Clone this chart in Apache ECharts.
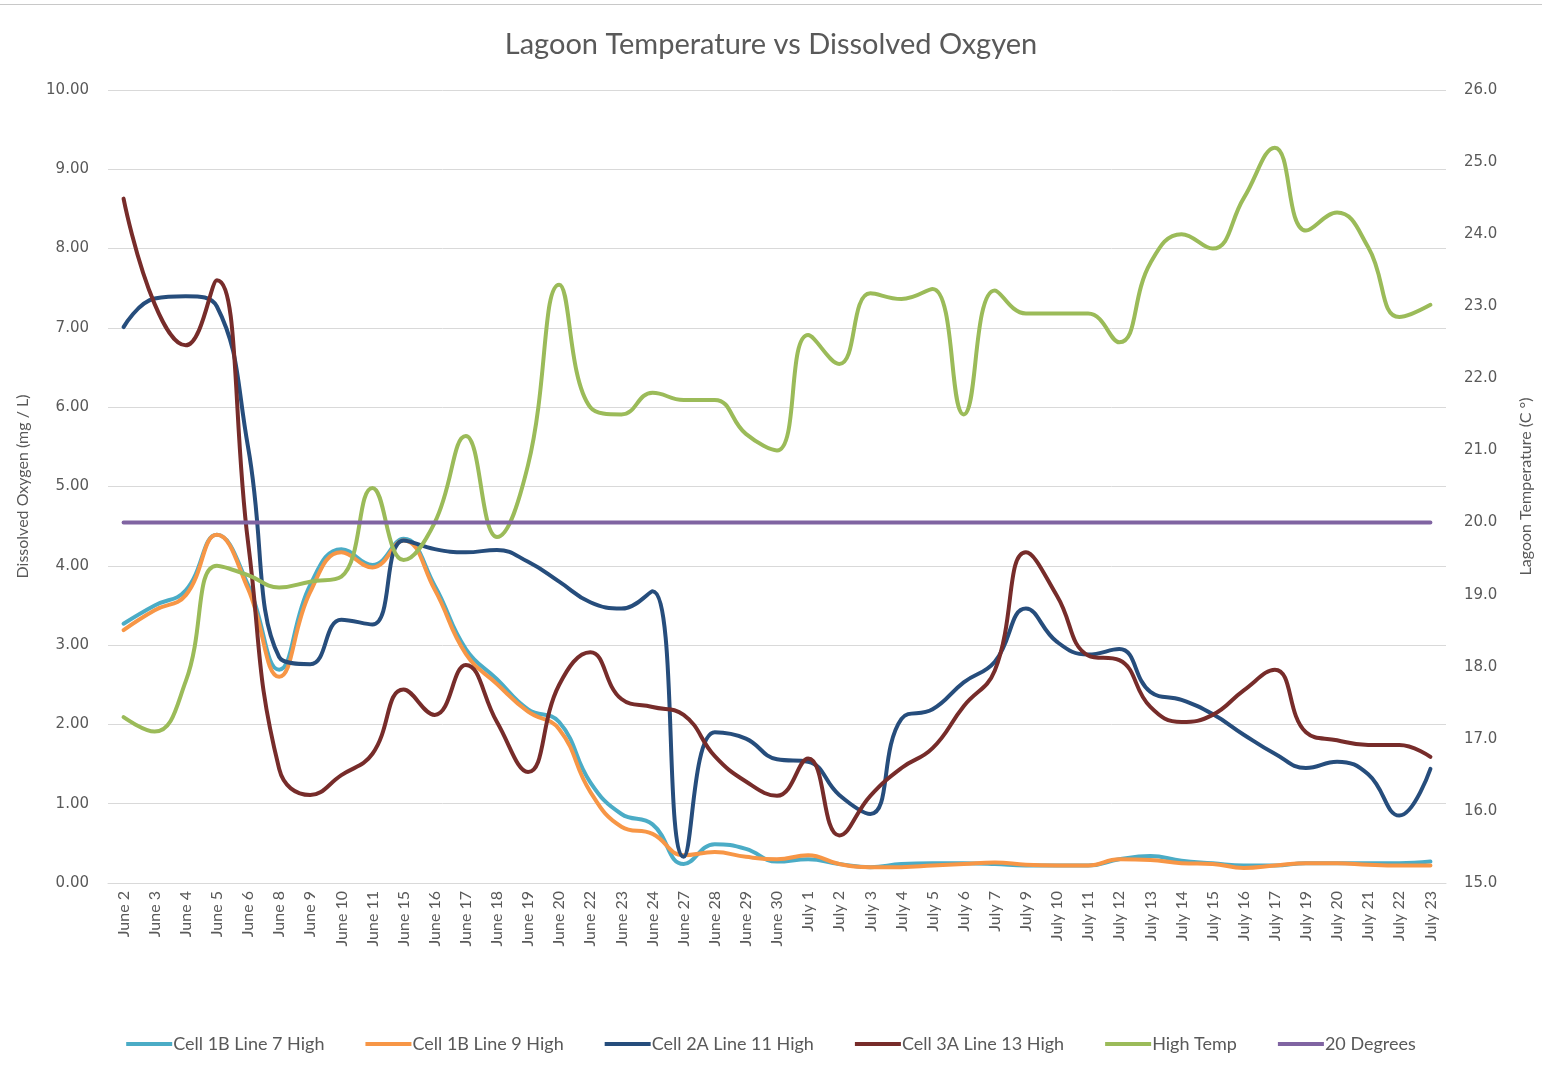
<!DOCTYPE html>
<html>
<head>
<meta charset="utf-8">
<script src="https://cdn.jsdelivr.net/npm/echarts@6/dist/echarts.min.js"></script>
<style>
  html, body { margin: 0; padding: 0; background: #fff; overflow: hidden; }
  #main { width: 1542px; height: 1067px; box-sizing: border-box; border-top: 1px solid #c8c8c8; margin-top: 4px; }
</style>
</head>
<body>
<div id="main"></div>
<script>
const dates = ['June 2', 'June 3', 'June 4', 'June 5', 'June 6', 'June 8', 'June 9', 'June 10', 'June 11',
  'June 15', 'June 16', 'June 17', 'June 18', 'June 19', 'June 20', 'June 22', 'June 23', 'June 24',
  'June 27', 'June 28', 'June 29', 'June 30', 'July 1', 'July 2', 'July 3', 'July 4', 'July 5', 'July 6',
  'July 7', 'July 9', 'July 10', 'July 11', 'July 12', 'July 13', 'July 14', 'July 15', 'July 16',
  'July 17', 'July 19', 'July 20', 'July 21', 'July 22', 'July 23']

const cell1bLine7 = [3.27, 3.5, 3.69, 4.39, 3.76, 2.69, 3.76, 4.21, 4.01, 4.34, 3.75, 2.95, 2.57, 2.19, 2.03,
  1.27, 0.87, 0.74, 0.24, 0.49, 0.43, 0.27, 0.3, 0.24, 0.2, 0.24, 0.25, 0.25, 0.24, 0.22, 0.22, 0.22,
  0.3, 0.34, 0.28, 0.25, 0.22, 0.22, 0.25, 0.25, 0.25, 0.25, 0.27]

const cell1bLine9 = [3.19, 3.44, 3.63, 4.39, 3.71, 2.6, 3.67, 4.17, 3.98, 4.32, 3.7, 2.89, 2.51, 2.16, 1.94,
  1.15, 0.71, 0.62, 0.35, 0.39, 0.33, 0.3, 0.35, 0.24, 0.2, 0.2, 0.22, 0.24, 0.26, 0.23, 0.22, 0.22,
  0.3, 0.29, 0.25, 0.24, 0.19, 0.22, 0.25, 0.25, 0.23, 0.22, 0.22]

const cell2aLine11 = [7.01, 7.37, 7.4, 7.27, 5.5, 2.85, 2.76, 3.32, 3.26, 4.32, 4.21, 4.17, 4.2, 4.05, 3.8,
  3.54, 3.46, 3.68, 0.33, 1.9, 1.82, 1.56, 1.53, 1.11, 0.87, 2.07, 2.19, 2.53, 2.79, 3.46, 3.04, 2.88,
  2.95, 2.41, 2.31, 2.13, 1.87, 1.63, 1.45, 1.53, 1.37, 0.85, 1.44]

const cell3aLine13 = [8.63, 7.3, 6.78, 7.6, 4.3, 1.44, 1.11, 1.36, 1.63, 2.44, 2.12, 2.75, 2.03, 1.4, 2.5,
  2.91, 2.32, 2.22, 2.12, 1.6, 1.28, 1.1, 1.57, 0.6, 1.1, 1.45, 1.7, 2.23, 2.68, 4.17, 3.62, 2.87,
  2.81, 2.22, 2.03, 2.12, 2.43, 2.69, 1.9, 1.8, 1.74, 1.74, 1.59]

const highTemp = [17.3, 17.1, 17.8, 19.4, 19.27, 19.1, 19.18, 19.25, 20.48, 19.48, 20.0, 21.2, 19.8, 20.8,
  23.3, 21.6, 21.5, 21.8, 21.7, 21.7, 21.23, 21.0, 22.6, 22.2, 23.18, 23.1, 23.24, 21.5, 23.22, 22.9,
  22.9, 22.9, 22.5, 23.6, 24.0, 23.8, 24.5, 25.2, 24.05, 24.3, 23.82, 22.85, 23.02]

const twentyDegrees = [20, 20, 20, 20, 20, 20, 20, 20, 20, 20, 20, 20, 20, 20, 20, 20, 20, 20, 20, 20, 20,
  20, 20, 20, 20, 20, 20, 20, 20, 20, 20, 20, 20, 20, 20, 20, 20, 20, 20, 20, 20, 20, 20]

const leftTicks = { min: 0, max: 10, step: 1 }
const rightTicks = { min: 15, max: 26, step: 1 }

const textColor = '#595959'
const font = 'Lato'

const myChart = echarts.init(document.getElementById('main'))

function lineSeries(name, data, color, axis) {
  return {
    name: name,
    type: 'line',
    yAxisIndex: axis,
    data: data,
    smooth: 0.45,
    showSymbol: false,
    symbol: 'none',
    lineStyle: { width: 4, color: color, cap: 'round' },
    itemStyle: { color: color },
  }
}

const option = {
  textStyle: { fontFamily: font },
  title: {
    text: 'Lagoon Temperature vs Dissolved Oxgyen',
    left: 'center',
    top: 20,
    textStyle: { fontFamily: font, fontSize: 29, fontWeight: 'normal', color: textColor },
  },
  legend: {
    bottom: 13,
    left: 'center',
    icon: 'rect',
    itemWidth: 46,
    itemHeight: 4,
    itemGap: 41,
    textStyle: { fontFamily: font, fontSize: 18, color: textColor, padding: [0, 0, 0, -4] },
  },
  grid: { left: 108, right: 90, top: 85, bottom: 188 },
  xAxis: {
    type: 'category',
    data: dates,
    boundaryGap: true,
    axisLine: { lineStyle: { color: '#d9d9d9', width: 1 } },
    axisTick: { show: false },
    axisLabel: { rotate: 90, interval: 0, fontFamily: font, fontSize: 16, color: textColor, margin: 8 },
  },
  yAxis: [
    {
      type: 'value',
      min: leftTicks.min,
      max: leftTicks.max,
      interval: leftTicks.step,
      name: 'Dissolved Oxygen (mg / L)',
      nameLocation: 'middle',
      nameRotate: 90,
      nameGap: 77,
      nameTextStyle: { fontFamily: font, fontSize: 16, color: textColor },
      axisLine: { show: false },
      axisTick: { show: false },
      axisLabel: { formatter: v => v.toFixed(2), fontFamily: 'DejaVu Sans', fontSize: 15, color: textColor, margin: 19 },
      splitLine: { lineStyle: { color: '#d9d9d9', width: 1 } },
    },
    {
      type: 'value',
      min: rightTicks.min,
      max: rightTicks.max,
      interval: rightTicks.step,
      name: 'Lagoon Temperature (C °)',
      nameLocation: 'middle',
      nameRotate: 90,
      nameGap: 72,
      nameTextStyle: { fontFamily: font, fontSize: 16, color: textColor },
      axisLine: { show: false },
      axisTick: { show: false },
      axisLabel: { formatter: v => v.toFixed(1), fontFamily: 'DejaVu Sans', fontSize: 15, color: textColor, margin: 18 },
      splitLine: { show: false },
    },
  ],
  series: [
    lineSeries('Cell 1B Line 7 High', cell1bLine7, '#4BACC6', 0),
    lineSeries('Cell 1B Line 9 High', cell1bLine9, '#F79646', 0),
    lineSeries('Cell 2A Line 11 High', cell2aLine11, '#264D7C', 0),
    lineSeries('Cell 3A Line 13 High', cell3aLine13, '#772C2A', 0),
    lineSeries('High Temp', highTemp, '#9BBB59', 1),
    lineSeries('20 Degrees', twentyDegrees, '#8064A2', 1),
  ],
}

option && myChart.setOption(option)
</script>
</body>
</html>
